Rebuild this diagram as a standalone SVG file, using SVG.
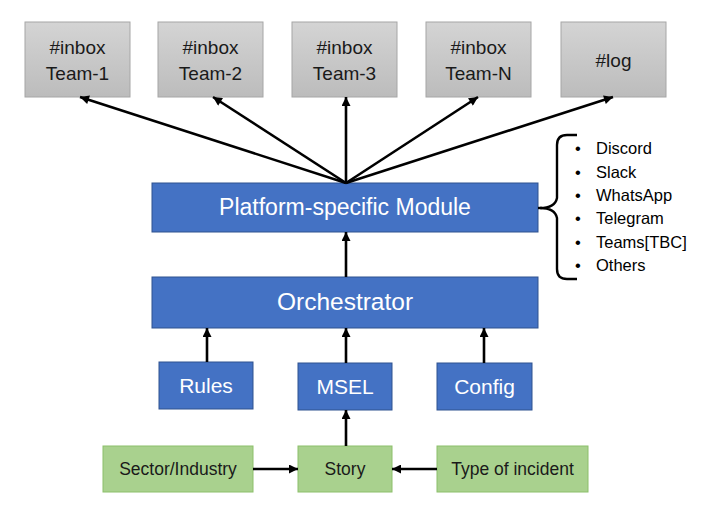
<svg xmlns="http://www.w3.org/2000/svg" width="723" height="523" viewBox="0 0 723 523">
<defs>
<linearGradient id="gray" x1="0" y1="0" x2="0" y2="1">
<stop offset="0" stop-color="#d4d4d4"/>
<stop offset="1" stop-color="#bcbcbc"/>
</linearGradient>
<marker id="ah" viewBox="0 0 10 10" refX="10" refY="5" markerWidth="10" markerHeight="9" markerUnits="userSpaceOnUse" orient="auto">
<path d="M0,0 L10,5 L0,10 z" fill="#000"/>
</marker>
<style>
.gray{fill:url(#gray);stroke:#a6a6a6;stroke-width:1}
.blue{fill:#4472c4;stroke:#2f528f;stroke-width:1}
.green{fill:#a9d18e;stroke:#8cbf6a;stroke-width:1}
.t{font-family:"Liberation Sans",Arial,sans-serif;text-anchor:middle}
.tg{font-size:19px;fill:#1a1a1a}
.tw{fill:#ffffff}
.tn{font-size:17.5px;fill:#1a1a1a}
.li{font-family:"Liberation Sans",Arial,sans-serif;font-size:16.5px;fill:#000}
.c{stroke:#000;stroke-width:2.6;fill:none;marker-end:url(#ah)}
</style>
</defs>
<rect width="723" height="523" fill="#ffffff"/>

<g id="inbox1"><rect class="gray" x="25" y="22" width="105" height="75"/>
<text class="t tg" x="77.5" y="54">#inbox</text><text class="t tg" x="77.5" y="80">Team-1</text></g>
<g id="inbox2"><rect class="gray" x="158" y="22" width="105" height="75"/>
<text class="t tg" x="210.5" y="54">#inbox</text><text class="t tg" x="210.5" y="80">Team-2</text></g>
<g id="inbox3"><rect class="gray" x="292" y="22" width="105" height="75"/>
<text class="t tg" x="344.5" y="54">#inbox</text><text class="t tg" x="344.5" y="80">Team-3</text></g>
<g id="inboxN"><rect class="gray" x="426" y="22" width="105" height="75"/>
<text class="t tg" x="478.5" y="54">#inbox</text><text class="t tg" x="478.5" y="80">Team-N</text></g>
<g id="log"><rect class="gray" x="561" y="22" width="105" height="75"/>
<text class="t tg" x="613.5" y="67">#log</text></g>

<g id="platform"><rect class="blue" x="152" y="183" width="386" height="49"/>
<text class="t tw" x="345" y="215" font-size="23px">Platform-specific Module</text></g>
<g id="orchestrator"><rect class="blue" x="152" y="277" width="386" height="51"/>
<text class="t tw" x="345" y="310" font-size="24.5px">Orchestrator</text></g>
<g id="rules"><rect class="blue" x="159" y="362" width="94" height="47"/>
<text class="t tw" x="206" y="393" font-size="21px">Rules</text></g>
<g id="msel"><rect class="blue" x="298" y="363" width="94" height="47"/>
<text class="t tw" x="345" y="394" font-size="21px">MSEL</text></g>
<g id="config"><rect class="blue" x="437" y="363" width="95" height="47"/>
<text class="t tw" x="484.5" y="394" font-size="21px">Config</text></g>

<g id="sector"><rect class="green" x="103" y="446" width="150" height="46"/>
<text class="t tn" x="178" y="475">Sector/Industry</text></g>
<g id="story"><rect class="green" x="298" y="446" width="94" height="46"/>
<text class="t tn" x="345" y="475">Story</text></g>
<g id="incident"><rect class="green" x="437" y="446" width="151" height="46"/>
<text class="t tn" x="512.5" y="475">Type of incident</text></g>

<g id="platforms-list">
<path d="M540,208 Q555,208 557,198 L557,145 Q557,135 567,135 L577,135 M540,208 Q555,208 557,218 L557,269 Q557,279 567,279 L577,279" fill="none" stroke="#000" stroke-width="2.4"/>
<path d="M538,208 L542,208" stroke="#000" stroke-width="2.4"/>
<g class="li">
<text x="575" y="154">•</text><text x="596" y="154">Discord</text>
<text x="575" y="178">•</text><text x="596" y="178">Slack</text>
<text x="575" y="201">•</text><text x="596" y="201">WhatsApp</text>
<text x="575" y="224">•</text><text x="596" y="224">Telegram</text>
<text x="575" y="248">•</text><text x="596" y="248">Teams[TBC]</text>
<text x="575" y="271">•</text><text x="596" y="271">Others</text>
</g>
</g>

<g id="connectors">
<line class="c" x1="346" y1="183" x2="80" y2="97"/>
<line class="c" x1="346" y1="183" x2="213" y2="97"/>
<line class="c" x1="346" y1="183" x2="346" y2="97"/>
<line class="c" x1="346" y1="183" x2="478" y2="97"/>
<line class="c" x1="346" y1="183" x2="613" y2="97"/>
<line class="c" x1="346" y1="277" x2="346" y2="232"/>
<line class="c" x1="207" y1="362" x2="207" y2="328"/>
<line class="c" x1="346" y1="363" x2="346" y2="328"/>
<line class="c" x1="484" y1="363" x2="484" y2="328"/>
<line class="c" x1="346" y1="446" x2="346" y2="410"/>
<line class="c" x1="253" y1="469" x2="298" y2="469"/>
<line class="c" x1="437" y1="469" x2="392" y2="469"/>
</g>
</svg>
